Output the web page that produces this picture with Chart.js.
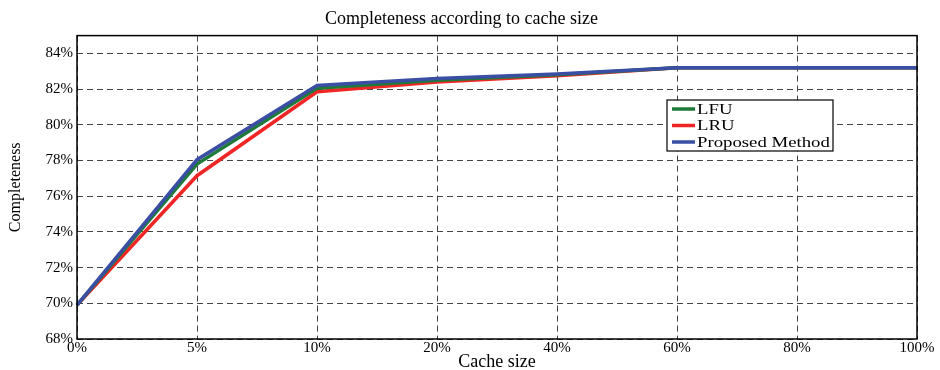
<!DOCTYPE html>
<html>
<head>
<meta charset="utf-8">
<script src="https://cdn.jsdelivr.net/npm/chart.js@4/dist/chart.umd.min.js"></script>
<style>
    html, body { margin: 0; padding: 0; background: #fff; }
    #wrap { width: 940px; height: 370px; }
</style>
</head>
<body>
<div id="wrap"><canvas id="chart"></canvas></div>
<script>
const cacheSizes = ['0%', '5%', '10%', '20%', '40%', '60%', '80%', '100%'];
const lfu = [69.9, 77.8, 82.05, 82.5, 82.8, 83.2, 83.2, 83.2];
const lru = [69.9, 77.15, 81.85, 82.4, 82.75, 83.2, 83.2, 83.2];
const proposed = [69.9, 78.05, 82.2, 82.6, 82.85, 83.2, 83.2, 83.2];

const serif = '"Liberation Serif", "DejaVu Serif", serif';

// black frame around the plot + matlab style legend box
const framePlugin = {
    id: 'frame',
    afterDatasetsDraw(chart) {
        const { ctx, chartArea: a } = chart;
        ctx.save();
        ctx.strokeStyle = '#000';
        ctx.lineWidth = 1.5;
        ctx.strokeRect(a.left, a.top, a.right - a.left, a.bottom - a.top);

        const x = 667, y = 100, w = 166, h = 51;
        ctx.fillStyle = '#fff';
        ctx.fillRect(x, y, w, h);
        ctx.lineWidth = 1.2;
        ctx.strokeRect(x, y, w, h);
        ctx.font = '15px ' + serif;
        ctx.textBaseline = 'middle';
        chart.data.datasets.forEach((ds, k) => {
            const ly = y + 9 + k * 16.5;
            ctx.strokeStyle = ds.borderColor;
            ctx.lineWidth = 3.5;
            ctx.beginPath();
            ctx.moveTo(x + 5, ly);
            ctx.lineTo(x + 28, ly);
            ctx.stroke();
            ctx.fillStyle = '#000';
            // reference text looks a bit wider than the font
            ctx.save();
            ctx.translate(x + 30, ly + 1);
            ctx.scale(1.25, 1);
            ctx.fillText(ds.label, 0, 0);
            ctx.restore();
        });
        ctx.restore();
    }
};

const grid = {
    color: '#444',
    lineWidth: 1,
    drawTicks: false
};

new Chart(document.getElementById('chart'), {
    type: 'line',
    data: {
        labels: cacheSizes,
        datasets: [
            { label: 'LFU', data: lfu, borderColor: '#1f7a3a', order: 1 },
            { label: 'LRU', data: lru, borderColor: '#f02525', order: 2 },
            { label: 'Proposed Method', data: proposed, borderColor: '#3a4ea3', order: 0 }
        ].map(d => Object.assign(d, {
            borderWidth: 3.5,
            pointRadius: 0,
            tension: 0,
            fill: false
        }))
    },
    options: {
        responsive: true,
        maintainAspectRatio: false,
        animation: false,
        layout: { padding: { left: 6, right: 23, top: 0, bottom: 0 } },
        plugins: {
            legend: { display: false },
            tooltip: { enabled: false },
            title: {
                display: true,
                text: 'Completeness according to cache size',
                color: '#000',
                font: { family: serif, size: 18, weight: 'normal' },
                padding: { top: 8, bottom: 6 }
            }
        },
        scales: {
            x: {
                offset: false,
                grid: grid,
                border: { display: false, dash: [6, 4] },
                ticks: {
                    color: '#000',
                    font: { family: serif, size: 15 },
                    padding: 0,
                    maxRotation: 0,
                    autoSkip: false
                },
                title: {
                    display: true,
                    text: 'Cache size',
                    color: '#000',
                    font: { family: serif, size: 18 },
                    padding: { top: 0, bottom: -3 }
                },
                afterFit(scale) { scale.height = 31; }
            },
            y: {
                min: 68,
                max: 85,
                grid: grid,
                border: { display: false, dash: [6, 4] },
                afterBuildTicks(scale) {
                    scale.ticks = scale.ticks.filter(t => t.value <= 84);
                },
                ticks: {
                    stepSize: 2,
                    color: '#000',
                    font: { family: serif, size: 15 },
                    padding: 4,
                    callback: v => v + '%'
                },
                title: {
                    display: true,
                    text: 'Completeness',
                    color: '#000',
                    font: { family: serif, size: 16 },
                    padding: { top: 0, bottom: 4 }
                },
                afterFit(scale) { scale.width = 71; }
            }
        }
    },
    plugins: [framePlugin]
});
</script>
</body>
</html>
